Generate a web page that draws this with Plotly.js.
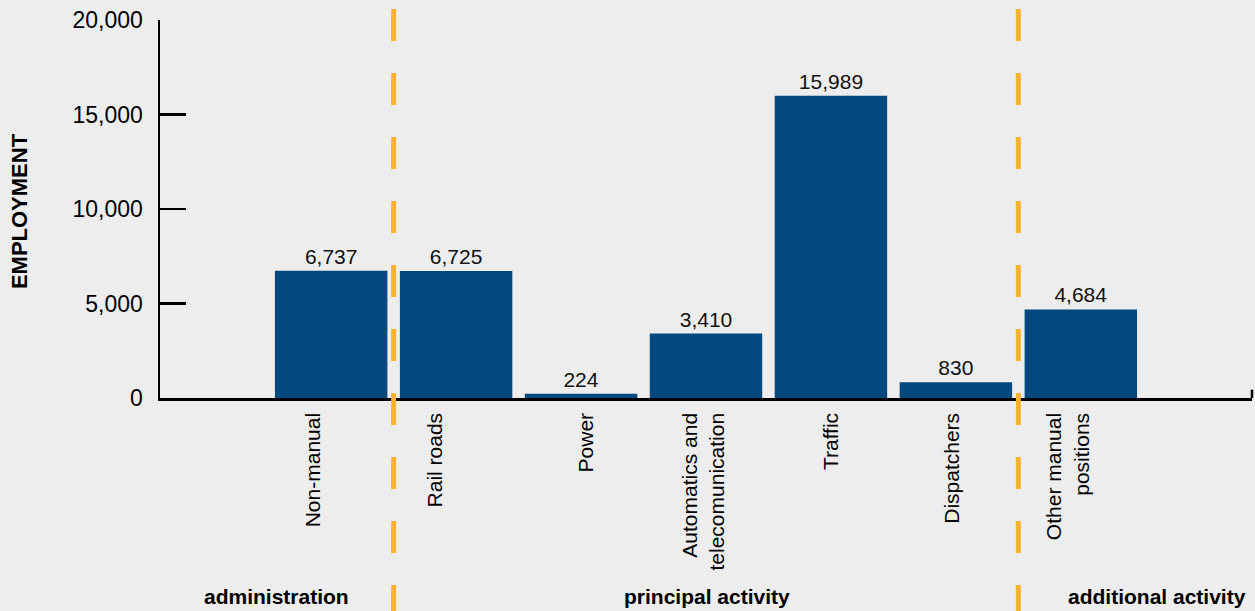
<!DOCTYPE html>
<html>
<head>
<meta charset="utf-8">
<script src="https://cdn.plot.ly/plotly-3.0.1.min.js"></script>
<style>
html,body{margin:0;padding:0;background:#ededed;}
#chart{width:1255px;height:611px;}
</style>
</head>
<body>
<div id="chart"></div>
<script>
// Data
const categories = ["Non-manual", "Rail roads", "Power", "Automatics and<br>telecomunication", "Traffic", "Dispatchers", "Other manual<br>positions"];
const employment = [6737, 6725, 224, 3410, 15989, 830, 4684];
const valueLabels = ["6,737", "6,725", "224", "3,410", "15,989", "830", "4,684"];
const groupNames = ["administration", "principal activity", "additional activity"];
const yTickVals = [0, 5000, 10000, 15000, 20000];
const yTickText = ["0", "5,000", "10,000", "15,000", "20,000"];

// Layout helpers (positions in category-index units)
const groupCenters = [-0.434, 3.01, 6.61];
const groupDividers = [0.5, 5.5];
const labelShift = [-0.14, -0.17, 0.04, -0.02, 0, -0.03, -0.1];

const FONT = "Liberation Sans, Arial, sans-serif";
const xIdx = categories.map((c, i) => i);

const trace = {
  type: "bar",
  x: xIdx,
  y: employment,
  width: 0.9,
  marker: {color: "#03497f", line: {width: 0}},
  text: valueLabels,
  textposition: "outside",
  textfont: {family: FONT, size: 21, color: "#111"},
  cliponaxis: false,
  hoverinfo: "none"
};

const shapes = groupDividers.map(d => ({
  type: "line", xref: "x", yref: "paper",
  x0: d, x1: d, y0: 1.029, y1: -0.58,
  line: {color: "#fbb131", width: 5, dash: "32px,32px"},
  layer: "above"
}));
shapes.push({type: "line", xref: "paper", yref: "paper", x0: 1, x1: 1, y0: 0, y1: 0.022,
  line: {color: "#000", width: 2.5}});

const annotations = groupNames.map((g, i) => ({
  text: "<b>" + g + "</b>", xref: "x", yref: "paper",
  x: groupCenters[i], y: -0.524, showarrow: false,
  xanchor: "center", yanchor: "middle",
  font: {family: FONT, size: 21, color: "#000"}
}));
annotations.push({
  text: "<b>EMPLOYMENT</b>", xref: "paper", yref: "paper",
  x: -0.128, y: 0.495, textangle: -90, showarrow: false,
  xanchor: "center", yanchor: "middle",
  font: {family: FONT, size: 22, color: "#000"}
});

const layout = {
  width: 1255, height: 611,
  paper_bgcolor: "#ededed", plot_bgcolor: "#ededed",
  margin: {l: 160, r: 3, t: 20, b: 213},
  showlegend: false,
  font: {family: FONT, color: "#000"},
  xaxis: {
    range: [-1.37, 7.37],
    tickmode: "array", tickvals: xIdx.map(i => i + labelShift[i]), ticktext: categories,
    tickangle: -90, ticks: "",
    tickfont: {family: FONT, size: 21, color: "#000"},
    showline: true, linecolor: "#000", linewidth: 2.5,
    showgrid: false, zeroline: false,
    ticklabelstandoff: 4
  },
  yaxis: {
    range: [0, 20000],
    tickmode: "array", tickvals: yTickVals, ticktext: yTickText,
    ticks: "inside", ticklen: 26, tickwidth: 2.5, tickcolor: "#000",
    tickfont: {family: FONT, size: 23, color: "#000"},
    showline: true, linecolor: "#000", linewidth: 2.5,
    showgrid: false, zeroline: false,
    ticklabelstandoff: 10
  },
  shapes: shapes,
  annotations: annotations
};

Plotly.newPlot("chart", [trace], layout, {displayModeBar: false, staticPlot: true});
</script>
</body>
</html>
